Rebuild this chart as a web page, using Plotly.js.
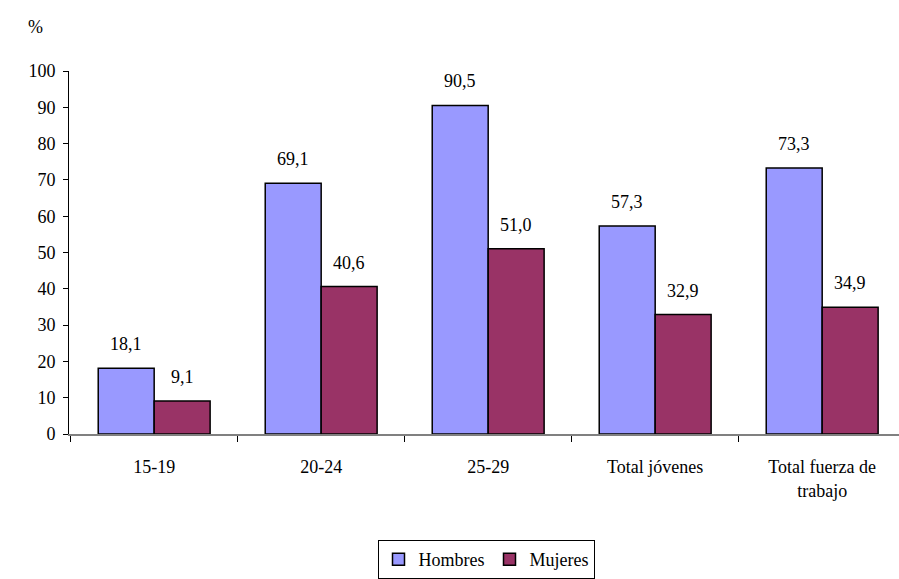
<!DOCTYPE html>
<html>
<head>
<meta charset="utf-8">
<script src="https://cdn.plot.ly/plotly-3.0.1.min.js"></script>
<style>html,body{margin:0;padding:0;background:#fff;}#chart{width:899px;height:579px;}</style>
</head>
<body>
<div id="chart"></div>
<script>
const categories = ["15-19", "20-24", "25-29", "Total jóvenes", "Total fuerza de<br>trabajo"];
const hombres = [18.1, 69.1, 90.5, 57.3, 73.3];
const mujeres = [9.1, 40.6, 51.0, 32.9, 34.9];
const yTicks = [0, 10, 20, 30, 40, 50, 60, 70, 80, 90, 100];

const fontFam = "Liberation Serif";
const fmt = v => v.toFixed(1).replace('.', ',');
const FS = 18;

const traces = [
  {type: 'bar', name: 'Hombres', x: categories, y: hombres,
   marker: {color: '#9999FF', line: {color: '#000', width: 1.5}}, hoverinfo: 'none'},
  {type: 'bar', name: 'Mujeres', x: categories, y: mujeres,
   marker: {color: '#993366', line: {color: '#000', width: 1.5}}, hoverinfo: 'none'}
];

const annotations = [];
categories.forEach((c, i) => {
  annotations.push({x: c, y: hombres[i], xref: 'x', yref: 'y', text: fmt(hombres[i]),
    showarrow: false, xshift: -28, yshift: 12, yanchor: 'bottom', font: {family: fontFam, size: FS, color: '#000'}});
  annotations.push({x: c, y: mujeres[i], xref: 'x', yref: 'y', text: fmt(mujeres[i]),
    showarrow: false, xshift: 28, yshift: 12, yanchor: 'bottom', font: {family: fontFam, size: FS, color: '#000'}});
});
const pw = 899 - 69, ph = 579 - 71 - 145;
annotations.push({x: (35 - 69) / pw, y: (579 - 145 - 27) / ph, xref: 'paper', yref: 'paper',
  xanchor: 'center', yanchor: 'middle', text: '%', showarrow: false,
  font: {family: fontFam, size: FS, color: '#000'}});

const layout = {
  width: 899, height: 579,
  margin: {l: 69, r: 0, t: 71, b: 145},
  paper_bgcolor: '#fff', plot_bgcolor: '#fff',
  font: {family: fontFam, size: FS, color: '#000'},
  barmode: 'group', bargap: 0.33, bargroupgap: 0,
  showlegend: true,
  legend: {orientation: 'h', xref: 'container', yref: 'container',
    x: 486 / 899, xanchor: 'center', y: 1 - 540 / 579, yanchor: 'top',
    bordercolor: '#000', borderwidth: 1, font: {family: fontFam, size: FS, color: '#000'},
    tracegroupgap: 0, itemwidth: 30},
  xaxis: {type: 'category', range: [-0.51, 4.46], showline: true, linecolor: '#808080', linewidth: 1.5,
    ticks: 'outside', tickson: 'boundaries', ticklen: 6, tickcolor: '#000',
    showgrid: false, zeroline: false, ticklabelstandoff: 16, automargin: false,
    tickfont: {family: fontFam, size: FS, color: '#000'}, fixedrange: true},
  yaxis: {range: [0, 100], tickvals: yTicks, ticktext: yTicks.map(String),
    showline: true, linecolor: '#000', linewidth: 1, ticks: 'outside', ticklen: 5, tickcolor: '#000',
    showgrid: false, zeroline: false, ticklabelstandoff: 4, automargin: false,
    tickfont: {family: fontFam, size: FS, color: '#000'}, fixedrange: true},
  annotations: annotations
};
Plotly.newPlot('chart', traces, layout, {displayModeBar: false, staticPlot: true});
</script>
</body>
</html>
